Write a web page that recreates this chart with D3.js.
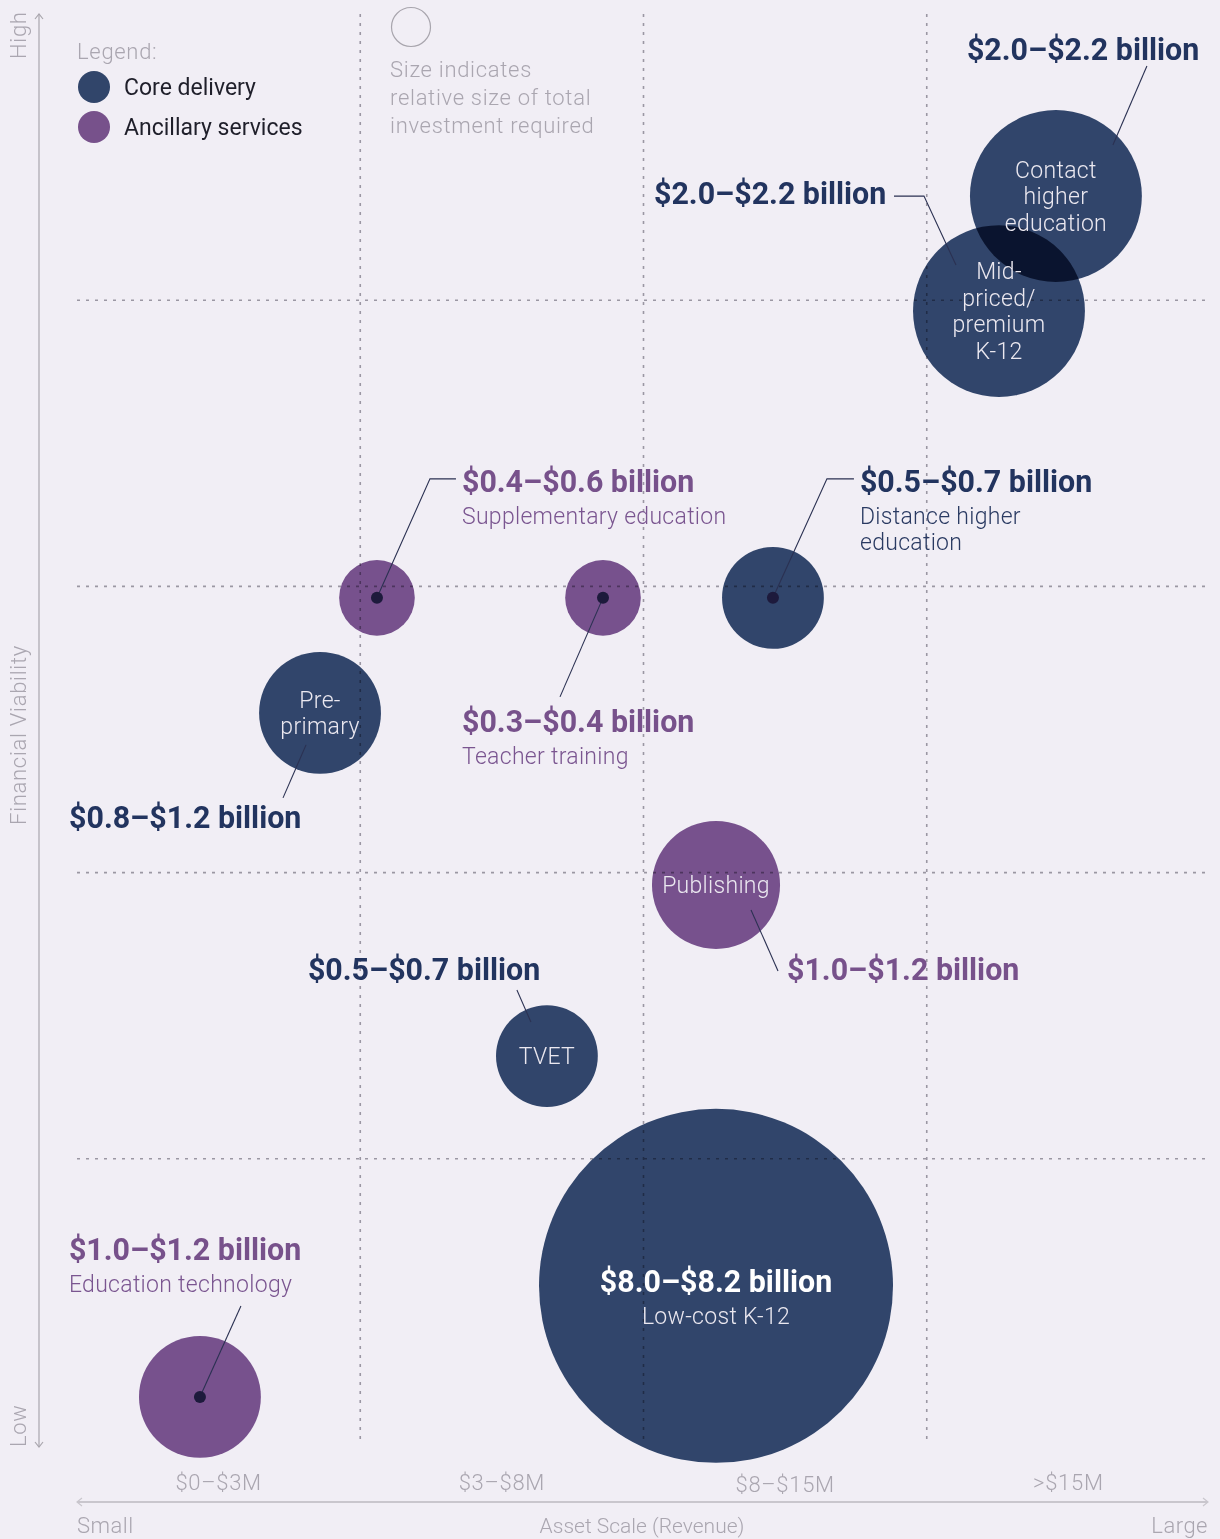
<!DOCTYPE html>
<html>
<head>
<meta charset="utf-8">
<script src="https://cdn.jsdelivr.net/npm/d3@7"></script>
<style>
  html, body { margin: 0; padding: 0; background: #f1eef5; }
  svg { display: block; }
  .light { font-family: Roboto, "Open Sans", sans-serif; font-weight: 300; }
  .reg { font-family: Roboto, "Open Sans", sans-serif; font-weight: 400; }
  .bold { font-family: Roboto, "Liberation Sans Narrow", sans-serif; font-weight: 700; }
  .bubble { mix-blend-mode: multiply; }
</style>
</head>
<body>
<svg id="chart" width="1220" height="1539"></svg>
<script>
// ---------------- DATA ----------------
const categories = ["Contact higher education", "Mid-priced/premium K-12", "Distance higher education",
  "Supplementary education", "Teacher training", "Pre-primary", "Publishing", "TVET",
  "Low-cost K-12", "Education technology"];
const segments = ["Core delivery", "Core delivery", "Core delivery", "Ancillary services",
  "Ancillary services", "Core delivery", "Ancillary services", "Core delivery",
  "Core delivery", "Ancillary services"];
// position on the asset-scale axis (column units, 0..4) and financial-viability axis (row units, 0..5)
const assetScale = [3.456, 3.255, 2.457, 1.059, 1.857, 0.858, 2.256, 1.659, 2.256, 0.434];
const viability  = [4.364, 3.962, 2.960, 2.960, 2.960, 2.558, 1.957, 1.359, 0.556, 0.168];
// relative size of total investment (as drawn)
const investSize = [1.91, 1.91, 0.67, 0.37, 0.37, 0.96, 1.06, 0.67, 8.1, 0.96];
const investLabels = ["$2.0–$2.2 billion", "$2.0–$2.2 billion", "$0.5–$0.7 billion",
  "$0.4–$0.6 billion", "$0.3–$0.4 billion", "$0.8–$1.2 billion", "$1.0–$1.2 billion",
  "$0.5–$0.7 billion", "$8.0–$8.2 billion", "$1.0–$1.2 billion"];
const xTickLabels = ["$0–$3M", "$3–$8M", "$8–$15M", ">$15M"];
const legendItems = ["Core delivery", "Ancillary services"];

// ---------------- STYLE / LAYOUT ----------------
const W = 1220, H = 1539;
const BG = "#f1eef5";
const colorTarget = { "Core delivery": "#31456a", "Ancillary services": "#77518b" };
const colorMultiply = { "Core delivery": "#344a6f", "Ancillary services": "#7e5793" };
const labelColor = { "Core delivery": "#22345f", "Ancillary services": "#77518b" };
const subColor = { "Core delivery": "#2a3a62", "Ancillary services": "#7a5590" };
const GRAY = "#aaa6b0";
const LEADER = "#2b3152";

const x = d3.scaleLinear().domain([0, 4]).range([77, 1210]);
const y = d3.scaleLinear().domain([0, 5]).range([1445, 14]);
const r = d3.scaleSqrt().domain([0, 8.1]).range([0, 177]);

// annotation layout (pixel offsets relative to the bubble centre)
const annot = [
  { label: [-89, -136, "start"], inner: ["Contact", "higher", "education"], leader: [[91, -130], [57, -51]] },
  { label: [-345, -107, "start"], inner: ["Mid-", "priced/", "premium", "K-12"], leader: [[-105, -115], [-75, -115], [-43, -46]] },
  { label: [87, -106, "start"], sub: ["Distance higher", "education"], dot: true, leader: [[81, -119], [54, -119], [0, 0]] },
  { label: [85, -106, "start"], sub: ["Supplementary education"], dot: true, leader: [[79, -119], [53, -119], [0, 0]] },
  { label: [-141, 134, "start"], sub: ["Teacher training"], dot: true, leader: [[0, 0], [-43, 99]] },
  { label: [-251, 115, "start"], inner: ["Pre-", "primary"], leader: [[-14, 32], [-37, 85]] },
  { label: [71, 95, "start"], inner: ["Publishing"], leader: [[35, 25], [62, 86]] },
  { label: [-239, -76, "start"], inner: ["TVET"], leader: [[-30, -66], [-16, -34]] },
  { label: [0, 6, "middle"], sub: ["Low-cost K-12"], white: true },
  { label: [-131, -137, "start"], sub: ["Education technology"], dot: true, leader: [[0, 0], [41, -91]] }
];

const svg = d3.select("#chart");
svg.append("rect").attr("width", W).attr("height", H).attr("fill", BG);

function condense(sel, f) {
  sel.each(function () {
    const len = this.getComputedTextLength();
    d3.select(this).attr("textLength", len * f).attr("lengthAdjust", "spacingAndGlyphs");
  });
}

// ---------------- GRID ----------------
const grid = svg.append("g");
[1, 2, 3].forEach(v => {
  grid.append("line").attr("x1", x(v)).attr("x2", x(v)).attr("y1", y(5)).attr("y2", y(0))
    .attr("stroke", "#9b97a3").attr("stroke-width", 1.6).attr("stroke-dasharray", "3,6");
});
[1, 2, 3, 4].forEach(v => {
  grid.append("line").attr("x1", x(0)).attr("x2", x(4)).attr("y1", y(v)).attr("y2", y(v))
    .attr("stroke", "#9b97a3").attr("stroke-width", 1.6).attr("stroke-dasharray", "3,6");
});

// ---------------- AXES ----------------
const axisG = svg.append("g");
axisG.append("line").attr("x1", 39).attr("x2", 39).attr("y1", y(5)).attr("y2", y(0) + 2)
  .attr("stroke", "#a9a6ad").attr("stroke-width", 1.2);
axisG.append("path").attr("d", `M35,${y(5) + 5}L39,${y(5)}L43,${y(5) + 5}`).attr("fill", "none").attr("stroke", "#a9a6ad").attr("stroke-width", 1.2);
axisG.append("path").attr("d", `M35,${y(0) - 3}L39,${y(0) + 2}L43,${y(0) - 3}`).attr("fill", "none").attr("stroke", "#a9a6ad").attr("stroke-width", 1.2);
const gtxt = (sel) => sel.attr("class", "light").attr("font-size", 22).attr("letter-spacing", 0.7).attr("fill", GRAY);
axisG.append("text").call(gtxt).attr("transform", `translate(26,${y(5) + 45}) rotate(-90)`).text("High");
axisG.append("text").call(gtxt).attr("transform", `translate(26,${y(0) + 2}) rotate(-90)`).text("Low");
axisG.append("text").call(gtxt).attr("transform", `translate(26,735) rotate(-90)`)
  .attr("text-anchor", "middle").text("Financial Viability");

const xAxisY = 1502;
axisG.append("line").attr("x1", x(0)).attr("x2", x(4) - 2).attr("y1", xAxisY).attr("y2", xAxisY)
  .attr("stroke", "#c9c6cd").attr("stroke-width", 2);
axisG.append("path").attr("d", `M${x(0) + 5},${xAxisY - 4}L${x(0)},${xAxisY}L${x(0) + 5},${xAxisY + 4}`).attr("fill", "none").attr("stroke", "#c9c6cd").attr("stroke-width", 1.2);
axisG.append("path").attr("d", `M${x(4) - 7},${xAxisY - 4}L${x(4) - 2},${xAxisY}L${x(4) - 7},${xAxisY + 4}`).attr("fill", "none").attr("stroke", "#c9c6cd").attr("stroke-width", 1.2);

const xBand = d3.scaleBand().domain(xTickLabels).range([x(0), x(4)]);
axisG.selectAll("text.tick").data(xTickLabels).join("text").call(gtxt).attr("class", "light tick")
  .attr("x", d => xBand(d) + xBand.bandwidth() / 2)
  .attr("y", (d, i) => i === 2 ? 1492 : 1490)
  .attr("text-anchor", "middle").text(d => d);

axisG.append("text").call(gtxt).attr("letter-spacing", 0.5).attr("x", x(0)).attr("y", 1533).text("Small");
axisG.append("text").attr("class", "light").attr("x", 642).attr("y", 1533).attr("text-anchor", "middle").attr("font-size", 21).attr("fill", GRAY).text("Asset Scale (Revenue)");
axisG.append("text").call(gtxt).attr("letter-spacing", 0.5).attr("x", x(4) - 2).attr("y", 1533).attr("text-anchor", "end").text("Large");

// ---------------- LEGEND ----------------
const lg = svg.append("g");
lg.append("text").call(gtxt).attr("x", 77).attr("y", 59).text("Legend:");
legendItems.forEach((d, i) => {
  lg.append("circle").attr("cx", 94).attr("cy", 87 + i * 40).attr("r", 16).attr("fill", colorTarget[d]);
  lg.append("text").attr("class", "reg").attr("x", 124).attr("y", 95 + i * 40).attr("font-size", 23).attr("fill", "#1f1f2a").text(d);
});
lg.append("circle").attr("cx", 411).attr("cy", 27).attr("r", 19.5).attr("fill", "none").attr("stroke", "#a8a5ad").attr("stroke-width", 1.2);
["Size indicates", "relative size of total", "investment required"].forEach((t, i) => {
  lg.append("text").call(gtxt).attr("x", 390).attr("y", 77 + i * 28).text(t);
});

// ---------------- BUBBLES ----------------
const data = categories.map((c, i) => ({
  cat: c, seg: segments[i], cx: x(assetScale[i]), cy: y(viability[i]), rr: r(investSize[i]),
  label: investLabels[i], a: annot[i]
}));

svg.append("g").selectAll("circle").data(data).join("circle").attr("class", "bubble")
  .attr("cx", d => d.cx).attr("cy", d => d.cy).attr("r", d => d.rr)
  .attr("fill", d => colorMultiply[d.seg]);

const ann = svg.append("g");
data.forEach(d => {
  const a = d.a;
  if (a.leader) {
    const pts = a.leader.map(p => [d.cx + p[0], d.cy + p[1]]);
    ann.append("path").attr("d", d3.line()(pts)).attr("fill", "none").attr("stroke", LEADER).attr("stroke-width", 1.1);
  }
  if (a.dot) {
    ann.append("circle").attr("cx", d.cx).attr("cy", d.cy).attr("r", 6).attr("fill", "#1d1a3c");
  }
  if (a.inner) {
    const n = a.inner.length;
    a.inner.forEach((t, k) => {
      ann.append("text").attr("class", "light").attr("x", d.cx).attr("y", d.cy + 8 + (k - (n - 1) / 2) * 26.5)
        .attr("text-anchor", "middle").attr("font-size", 23).attr("letter-spacing", 0.3)
        .attr("fill", "#ebe8f0").text(t);
    });
  }
  const lx = d.cx + a.label[0], ly = d.cy + a.label[1];
  const bt = ann.append("text").attr("class", "bold").attr("x", lx).attr("y", ly)
    .attr("text-anchor", a.label[2]).attr("font-size", 31)
    .attr("fill", a.white ? "#ffffff" : labelColor[d.seg]).text(d.label);
  condense(bt, 0.98);
  if (a.sub) {
    a.sub.forEach((t, k) => {
      ann.append("text").attr("class", "light").attr("x", lx).attr("y", ly + 32 + k * 26)
        .attr("text-anchor", a.label[2]).attr("font-size", 23).attr("letter-spacing", 0.3)
        .attr("fill", a.white ? "#ebe8f0" : subColor[d.seg]).text(t);
    });
  }
});
</script>
</body>
</html>
